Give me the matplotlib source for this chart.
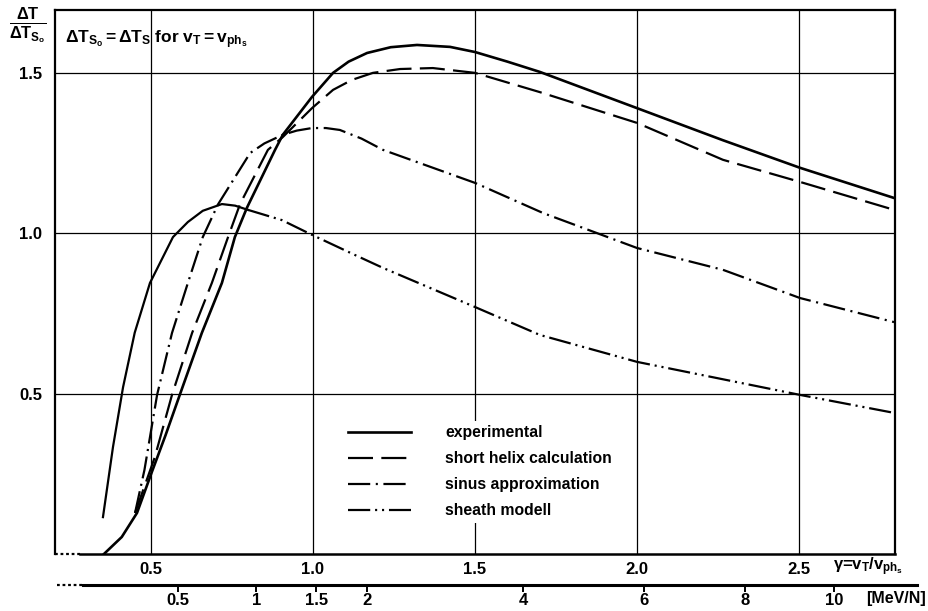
# dT/dTso versus gamma = vT/vphs, four curves, with an energy scale under the axis

import matplotlib
matplotlib.use("Agg")
import matplotlib.pyplot as plt
import numpy as np

plt.rcParams['font.family'] = ['Liberation Sans', 'DejaVu Sans']
plt.rcParams['font.weight'] = 'bold'
plt.rcParams['mathtext.fontset'] = 'custom'
plt.rcParams['mathtext.rm'] = 'Liberation Sans:bold'
plt.rcParams['mathtext.it'] = 'Liberation Sans:bold'
plt.rcParams['mathtext.bf'] = 'Liberation Sans:bold'
plt.rcParams['lines.scale_dashes'] = False

# curves (gamma, dT/dTso)
exp_g = [0.355, 0.41, 0.457, 0.503, 0.545, 0.589, 0.657, 0.719, 0.759, 0.796, 0.883,
         0.907, 0.997, 1.062, 1.11, 1.167, 1.24, 1.321, 1.423, 1.5, 1.6, 1.70, 2.0,
         2.265, 2.503, 2.793]
exp_v = [0.0, 0.053, 0.128, 0.256, 0.37, 0.496, 0.689, 0.845, 0.988, 1.079, 1.26,
         1.307, 1.425, 1.5, 1.535, 1.562, 1.58, 1.587, 1.581, 1.565, 1.535, 1.503, 1.39,
         1.29, 1.204, 1.11]

helix_g = [0.451, 0.512, 0.565, 0.627, 0.688, 0.738, 0.775, 0.861, 0.907, 0.997, 1.062,
           1.12, 1.185, 1.269, 1.37, 1.5, 1.70, 2.0, 2.265, 2.503, 2.793]
helix_v = [0.128, 0.302, 0.496, 0.689, 0.845, 0.988, 1.091, 1.26, 1.30, 1.39, 1.447,
           1.478, 1.5, 1.512, 1.515, 1.5, 1.44, 1.344, 1.229, 1.16, 1.073]

sinus_g = [0.451, 0.48, 0.519, 0.565, 0.614, 0.66, 0.707, 0.806, 0.85, 0.907, 0.95,
           0.997, 1.04, 1.083, 1.15, 1.216, 1.5, 1.71, 2.0, 2.265, 2.503, 2.793]
sinus_v = [0.128, 0.262, 0.496, 0.689, 0.845, 0.988, 1.09, 1.25, 1.28, 1.307, 1.32,
           1.328, 1.328, 1.322, 1.295, 1.26, 1.157, 1.063, 0.954, 0.886, 0.798, 0.723]

sheath_g = [0.352, 0.383, 0.414, 0.45, 0.497, 0.568, 0.614, 0.66, 0.719, 0.76, 0.799,
            0.904, 0.997, 1.13, 1.216, 1.5, 1.70, 2.0, 2.503, 2.793]
sheath_v = [0.115, 0.334, 0.52, 0.69, 0.845, 0.988, 1.035, 1.07, 1.091, 1.086, 1.073,
            1.041, 0.995, 0.932, 0.892, 0.77, 0.683, 0.599, 0.496, 0.44]
sheath_solid_n = 11   # the rising part is drawn as a full line in the original

gamma_ticks = [0.5, 1.0, 1.5, 2.0, 2.5]
value_ticks = [0.5, 1.0, 1.5]
energy_ticks = [0.5, 1, 1.5, 2, 4, 6, 8, 10]
energy_labels = ['0.5', '1', '1.5', '2', '4', '6', '8', '10']
E_ref = 1.47  # MeV/N at gamma = 1

labels = ['experimental', 'short helix calculation', 'sinus approximation', 'sheath modell']

fig = plt.figure(figsize=(9.29, 6.11), dpi=100)
ax = fig.add_axes([55/929, 1-554/611, 840/929, 544/611])
ax.set_xlim(0.204, 2.796)
ax.set_ylim(0, 1.696)

# grid
for g in gamma_ticks:
    ax.axvline(g, color='k', lw=0.9, zorder=1)
for v in value_ticks:
    ax.axhline(v, color='k', lw=0.9, zorder=1)

dash = (0, (18, 6))
dashdot = (0, (16, 4, 1.5, 4))
dashdotdot = (0, (16, 3.5, 1.5, 3.5, 1.5, 3.5))

l1, = ax.plot(exp_g, exp_v, color='k', lw=1.9, ls='-', zorder=3)
l2, = ax.plot(helix_g, helix_v, color='k', lw=1.6, ls=dash, zorder=3)
l3, = ax.plot(sinus_g, sinus_v, color='k', lw=1.6, ls=dashdot, zorder=3)
ax.plot(sheath_g[:sheath_solid_n], sheath_v[:sheath_solid_n], color='k', lw=1.6, zorder=3)
l4, = ax.plot(sheath_g[sheath_solid_n-1:], sheath_v[sheath_solid_n-1:], color='k', lw=1.6,
              ls=dashdotdot, zorder=3)

leg = ax.legend([l1, l2, l3, l4], labels, loc='upper left', bbox_to_anchor=(0.343, 0.245),
                frameon=True, facecolor='white', edgecolor='none', framealpha=1,
                fontsize=11.3, handlelength=4.0, handletextpad=2.2, labelspacing=0.7,
                borderpad=0.3, borderaxespad=0)
leg.set_zorder(4)

# frame: bottom axis is dotted at its left end
for s in ['left', 'top', 'right']:
    ax.spines[s].set_linewidth(1.6)
ax.spines['bottom'].set_visible(False)
ax.plot([0, 0.03], [0, 0], transform=ax.transAxes, color='k', lw=1.6, ls=(0, (2, 2)),
        clip_on=False, zorder=5)
ax.plot([0.03, 1], [0, 0], transform=ax.transAxes, color='k', lw=1.8,
        clip_on=False, zorder=5)

ax.set_xticks(gamma_ticks)
ax.set_xticklabels(['0.5', '1.0', '1.5', '2.0', '2.5'])
ax.set_yticks(value_ticks)
ax.set_yticklabels(['0.5', '1.0', '1.5'])
ax.tick_params(length=0, labelsize=12)
ax.tick_params(axis='x', pad=6)
ax.tick_params(axis='y', pad=9)

# energy scale below
sec_y = -31/544
sec = ax.secondary_xaxis(sec_y, functions=(lambda g: E_ref*np.asarray(g)**2,
                                          lambda e: np.sqrt(np.clip(np.asarray(e), 0, None)/E_ref)))
sec.set_xticks(energy_ticks)
sec.set_xticklabels(energy_labels)
sec.tick_params(direction='out', length=5, width=1.4, pad=1, labelsize=12)
sec.spines['bottom'].set_visible(False)
ax.plot([0.002, 0.033], [sec_y, sec_y], transform=ax.transAxes, color='k', lw=1.6,
        ls=(0, (2, 2)), clip_on=False)
ax.plot([0.033, 1.026], [sec_y, sec_y], transform=ax.transAxes, color='k', lw=2.2,
        clip_on=False)

# texts
fig.text(46/929, 1-26/611, r'$\frac{\Delta T}{\Delta T_{S_o}}$', ha='right', va='center',
         fontsize=17)
ax.text(10/840, 1-30/544, r'$\Delta T_{S_o} = \Delta T_S$ for $v_T = v_{ph_s}$',
        transform=ax.transAxes, ha='left', va='center', fontsize=12.5)
fig.text(833/929, 1-567/611, r'$\gamma$=$v_T/v_{ph_s}$', ha='left', va='center', fontsize=12)
fig.text(866/929, 1-599/611, '[MeV/N]', ha='left', va='center', fontsize=11.5)

fig.savefig('out.png', dpi=100)
